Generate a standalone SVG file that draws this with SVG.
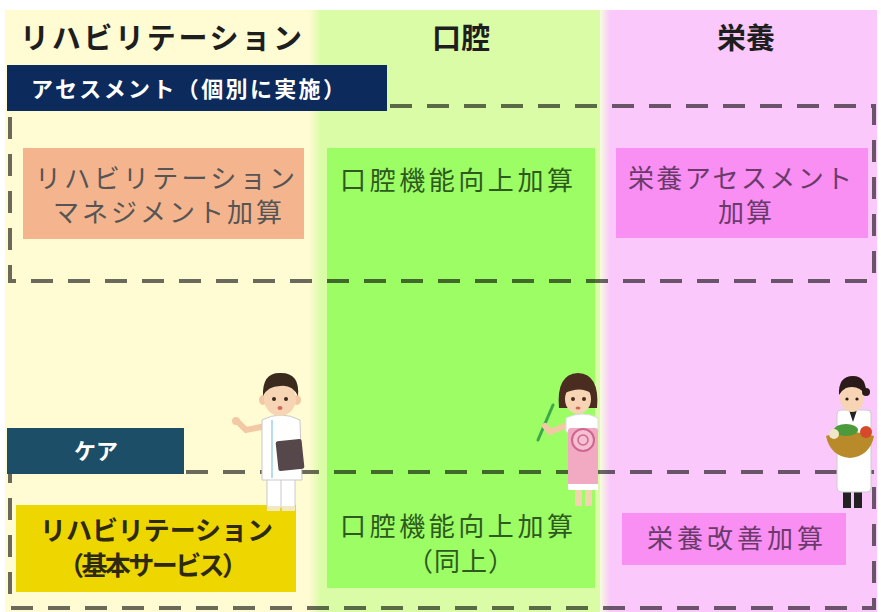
<svg xmlns="http://www.w3.org/2000/svg" width="881" height="612" viewBox="0 0 881 612">
  <style>
    .jp { font-family: "Noto Sans CJK JP", "Noto Sans", sans-serif; }
    .head { font-size: 29px; font-weight: 700; fill: #1e1e1e; }
    .band { font-size: 22px; font-weight: 700; fill: #ffffff; }
    .item { font-size: 26px; font-weight: 400; }
    .strong { font-weight: 700; }
    .dash { fill: none; stroke: #000; stroke-opacity: 0.58; stroke-width: 4; stroke-dasharray: 22 15; }
  </style>
  <defs>
    <linearGradient id="seam1" x1="0" x2="1" y1="0" y2="0">
      <stop offset="0" stop-color="#fffbd3"/>
      <stop offset="1" stop-color="#dafca6"/>
    </linearGradient>
    <linearGradient id="seam2" x1="0" x2="1" y1="0" y2="0">
      <stop offset="0" stop-color="#f6fde0"/>
      <stop offset="1" stop-color="#fbc8fb"/>
    </linearGradient>
  </defs>

  <!-- page -->
  <rect x="0" y="0" width="881" height="612" fill="#ffffff"/>

  <!-- three columns -->
  <g id="columns">
    <rect x="5" y="10" width="312" height="602" fill="#fffbd3"/>
    <rect x="317" y="10" width="291" height="602" fill="#dafca6"/>
    <rect x="309" y="10" width="12" height="602" fill="url(#seam1)"/>
    <rect x="608" y="10" width="269" height="602" fill="#fbc8fb"/>
    <rect x="600" y="10" width="10" height="602" fill="url(#seam2)"/>
  </g>

  <!-- column headings -->
  <g id="headings" class="jp head">
    <text x="20" y="49" textLength="282" lengthAdjust="spacing">リハビリテーション</text>
    <text x="461" y="49" text-anchor="middle">口腔</text>
    <text x="746" y="49" text-anchor="middle">栄養</text>
  </g>

  <!-- oral column: bright panel -->
  <rect id="oral-panel" x="327" y="148" width="268" height="440" fill="#9cfd64"/>

  <!-- assessment band -->
  <g id="assessment">
    <rect x="7" y="65" width="380" height="46" fill="#0c2a5c"/>
    <text class="jp band" x="31" y="97" textLength="314" lengthAdjust="spacing">アセスメント（個別に実施）</text>
  </g>

  <!-- care band -->
  <g id="care">
    <rect x="7" y="428" width="177" height="46" fill="#1c4e67"/>
    <text class="jp band" x="96" y="459" text-anchor="middle">ケア</text>
  </g>

  <!-- dashed groupings -->
  <g id="connectors">
    <path class="dash" d="M 390 106 H 874 V 281 H 10 V 111"/>
    <path class="dash" d="M 186 472 H 874 V 608 H 10 V 474"/>
  </g>

  <!-- assessment items -->
  <g id="rehab-management">
    <rect x="23" y="148" width="281" height="91" fill="#f3b48e"/>
    <text class="jp item" x="35" y="188" fill="#555" textLength="260" lengthAdjust="spacing">リハビリテーション</text>
    <text class="jp item" x="53" y="222" fill="#555" textLength="229" lengthAdjust="spacing">マネジメント加算</text>
  </g>

  <g id="oral-assessment">
    <text class="jp item" x="340" y="190" fill="#2e5a20" textLength="233" lengthAdjust="spacing">口腔機能向上加算</text>
  </g>

  <g id="nutrition-assessment">
    <rect x="616" y="148" width="252" height="90" fill="#f98ef3"/>
    <text class="jp item" x="628" y="188" fill="#6a3a6a" textLength="224" lengthAdjust="spacing">栄養アセスメント</text>
    <text class="jp item" x="746" y="222" fill="#6a3a6a" text-anchor="middle" letter-spacing="2">加算</text>
  </g>

  <!-- care items -->
  <g id="rehab-basic">
    <rect x="16" y="505" width="280" height="87" fill="#eed600"/>
    <text class="jp item strong" x="40" y="540" fill="#2e2a10" textLength="233" lengthAdjust="spacing">リハビリテーション</text>
    <text class="jp item strong" x="58" y="575" fill="#2e2a10" textLength="190" lengthAdjust="spacing">（基本サービス）</text>
  </g>

  <g id="oral-care">
    <text class="jp item" x="340" y="536" fill="#2e5a20" textLength="233" lengthAdjust="spacing">口腔機能向上加算</text>
    <text class="jp item" x="461" y="571" fill="#2e5a20" text-anchor="middle" letter-spacing="1">（同上）</text>
  </g>

  <g id="nutrition-care">
    <rect x="622" y="513" width="224" height="52" fill="#f98ef3"/>
    <text class="jp item" x="647" y="548" fill="#6a3a6a" textLength="176" lengthAdjust="spacing">栄養改善加算</text>
  </g>

  <!-- therapist -->
  <g id="therapist">
    <path d="M 266 426 L 246 430 L 238 422" fill="none" stroke="#f2c9a4" stroke-width="6" stroke-linecap="round"/>
    <circle cx="236" cy="421" r="4" fill="#f2c9a4"/>
    <rect x="267" y="476" width="28" height="32" fill="#ffffff" stroke="#c9c9c9"/>
    <line x1="281" y1="480" x2="281" y2="508" stroke="#c9c9c9"/>
    <rect x="267" y="506" width="13" height="5" fill="#f2e9c0"/>
    <rect x="282" y="506" width="13" height="5" fill="#f2e9c0"/>
    <path d="M 262 420 Q 281 410 300 420 L 302 480 L 262 480 Z" fill="#ffffff" stroke="#c9c9c9"/>
    <line x1="272" y1="420" x2="272" y2="478" stroke="#9fd0e6" stroke-width="1.5"/>
    <rect x="277" y="440" width="26" height="30" rx="2" fill="#55474a" transform="rotate(-6 290 455)"/>
    <ellipse cx="263" cy="400" rx="4" ry="5" fill="#f2c9a4"/>
    <ellipse cx="297" cy="400" rx="4" ry="5" fill="#f2c9a4"/>
    <ellipse cx="280" cy="399" rx="16" ry="17" fill="#f7d5b4"/>
    <path d="M 263 396 Q 262 372 281 373 Q 300 373 298 396 Q 292 384 280 386 Q 268 386 263 396 Z" fill="#3a2a1e"/>
    <circle cx="274" cy="399" r="2" fill="#3a2a1e"/>
    <circle cx="286" cy="399" r="2" fill="#3a2a1e"/>
    <ellipse cx="280" cy="408" rx="2.5" ry="2" fill="#d06a5a"/>
  </g>

  <!-- dental hygienist -->
  <g id="hygienist">
    <line x1="538" y1="440" x2="553" y2="405" stroke="#3da84a" stroke-width="3" stroke-linecap="round"/>
    <path d="M 570 424 L 550 432 L 545 426" fill="none" stroke="#f2c9a4" stroke-width="6" stroke-linecap="round"/>
    <rect x="575" y="488" width="7" height="18" fill="#f2d4b0"/>
    <rect x="585" y="488" width="7" height="18" fill="#f2d4b0"/>
    <path d="M 566 418 Q 583 410 598 418 L 598 432 L 566 432 Z" fill="#ffffff" stroke="#dddddd"/>
    <rect x="568" y="428" width="30" height="60" rx="3" fill="#f2a9c2"/>
    <rect x="568" y="484" width="30" height="6" fill="#ffffff"/>
    <circle cx="583" cy="440" r="11" fill="#f6bfd2" stroke="#d0668f" stroke-width="2"/>
    <circle cx="583" cy="440" r="5" fill="none" stroke="#d0668f" stroke-width="1.5"/>
    <path d="M 559 408 Q 556 374 578 373 Q 600 374 597 408 Z" fill="#4a2c20"/>
    <ellipse cx="578" cy="399" rx="13" ry="15" fill="#f7d5b4"/>
    <path d="M 565 393 Q 566 380 578 380 Q 591 380 591 393 Q 580 386 565 393 Z" fill="#4a2c20"/>
    <circle cx="573" cy="399" r="2" fill="#4a2c20"/>
    <circle cx="584" cy="399" r="2" fill="#4a2c20"/>
    <ellipse cx="578" cy="408" rx="2.5" ry="1.5" fill="#d06a5a"/>
  </g>

  <!-- dietitian -->
  <g id="dietitian">
    <rect x="843" y="490" width="8" height="18" fill="#222222"/>
    <rect x="854" y="490" width="8" height="18" fill="#222222"/>
    <rect x="837" y="410" width="34" height="82" rx="4" fill="#ffffff" stroke="#cccccc"/>
    <path d="M 849 410 L 853 422 L 857 410 Z" fill="#222222"/>
    <path d="M 826 436 Q 850 428 874 436 Q 870 456 850 458 Q 830 456 826 436 Z" fill="#b88a2a"/>
    <ellipse cx="846" cy="430" rx="12" ry="6" fill="#4c9a3c"/>
    <circle cx="866" cy="432" r="6" fill="#d54a2a"/>
    <circle cx="834" cy="434" r="5" fill="#f0e6c8"/>
    <ellipse cx="852" cy="398" rx="12" ry="14" fill="#f7d5b4"/>
    <path d="M 839 395 Q 838 376 853 376 Q 867 376 866 395 Q 858 384 846 388 Q 842 390 839 395 Z" fill="#2a1a1a"/>
    <circle cx="866" cy="392" r="4" fill="#2a1a1a"/>
    <circle cx="847" cy="399" r="1.6" fill="#2a1a1a"/>
    <circle cx="857" cy="399" r="1.6" fill="#2a1a1a"/>
  </g>
</svg>
